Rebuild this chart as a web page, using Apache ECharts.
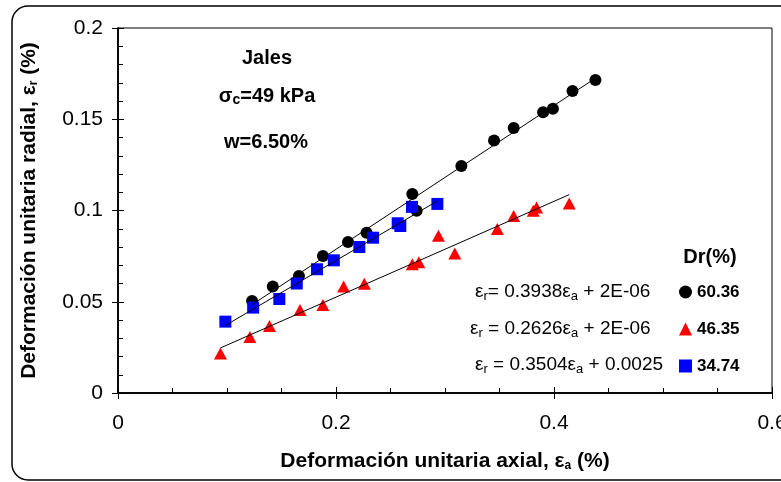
<!DOCTYPE html>
<html>
<head>
<meta charset="utf-8">
<script src="https://cdn.jsdelivr.net/npm/echarts@6/dist/echarts.min.js"></script>
<style>
html,body{margin:0;padding:0;background:#fff;}
#chart{width:781px;height:482px;}
</style>
</head>
<body>
<div id="chart"></div>
<script>
// ---- data ----
var seriesNames = ['60.36', '46.35', '34.74'];
var xTicks = ['0', '0.2', '0.4', '0.6'];
var yTicks = ['0', '0.05', '0.1', '0.15', '0.2'];

var circX = [0.123, 0.142, 0.166, 0.188, 0.211, 0.228, 0.270, 0.274, 0.315, 0.345, 0.363, 0.390, 0.399, 0.417, 0.438];
var circY = [0.0504, 0.0583, 0.0641, 0.0751, 0.0827, 0.0878, 0.109, 0.0998, 0.1244, 0.1384, 0.1452, 0.1538, 0.1558, 0.1655, 0.1715];

var triX = [0.094, 0.121, 0.139, 0.167, 0.188, 0.207, 0.226, 0.270, 0.276, 0.294, 0.309, 0.348, 0.363, 0.381, 0.384, 0.414];
var triY = [0.0217, 0.0307, 0.0367, 0.0455, 0.0482, 0.0583, 0.0599, 0.0705, 0.0716, 0.0862, 0.0764, 0.0899, 0.097, 0.0999, 0.1017, 0.1039];

var sqX = [0.0985, 0.124, 0.148, 0.164, 0.1826, 0.198, 0.2214, 0.234, 0.2566, 0.259, 0.2697, 0.293];
var sqY = [0.0391, 0.0468, 0.0515, 0.060, 0.0678, 0.0727, 0.080, 0.0851, 0.093, 0.0915, 0.102, 0.1036];

// trend line end points
var fitCircX = [0.123, 0.438], fitCircY = [0.0484, 0.1725];
var fitTriX = [0.094, 0.414], fitTriY = [0.0247, 0.1087];
var fitSqX = [0.0985, 0.293], fitSqY = [0.037, 0.1052];

function pairs(xs, ys) { return xs.map(function (x, i) { return [x, ys[i]]; }); }

var FONT = 'Liberation Sans, Arial, Helvetica, sans-serif';
var chart = echarts.init(document.getElementById('chart'), null, {renderer: 'canvas'});

var subStyle = function (size, pad) {
  return {fontSize: size, fontFamily: FONT, fontWeight: 'bold', padding: [pad, 0, 0, 0]};
};

var axisCommon = {
  min: 0,
  axisLine: {show: true, lineStyle: {color: '#000', width: 1.5}},
  splitLine: {show: false}
};

var option = {
  animation: false,
  backgroundColor: '#fff',
  grid: {
    left: 118, top: 28, right: 9, bottom: 89,
    show: true, borderColor: '#000', borderWidth: 1,
    containLabel: false, outerBoundsMode: 'none'
  },
  xAxis: [
    Object.assign({}, axisCommon, {
      type: 'value', position: 'bottom', max: 0.6, interval: 0.2,
      axisTick: {show: true, inside: false, length: 6, lineStyle: {color: '#000', width: 1}},
      axisLabel: {
        show: true, margin: 20, fontSize: 21, fontFamily: FONT, color: '#000', hideOverlap: false,
        formatter: function (v) { return xTicks[Math.round(v / 0.2)]; }
      },
      name: 'Deformación unitaria axial, ε{s|a} (%)',
      nameLocation: 'middle', nameGap: 58,
      nameTextStyle: {
        fontSize: 21, fontWeight: 'bold', fontFamily: FONT, color: '#000',
        rich: {s: subStyle(12, 9)}
      }
    }),
    Object.assign({}, axisCommon, {
      type: 'value', position: 'bottom', max: 0.6, interval: 0.2,
      axisTick: {show: true, inside: true, length: 6, lineStyle: {color: '#000', width: 1}},
      minorTick: {show: true, splitNumber: 4, length: 5, lineStyle: {color: '#000', width: 1}},
      axisLabel: {show: false}
    })
  ],
  yAxis: [
    Object.assign({}, axisCommon, {
      type: 'value', position: 'left', max: 0.2, interval: 0.05,
      axisTick: {show: true, inside: false, length: 6, lineStyle: {color: '#000', width: 1}},
      axisLabel: {
        show: true, margin: 15, fontSize: 21, fontFamily: FONT, color: '#000',
        formatter: function (v) { return yTicks[Math.round(v / 0.05)]; }
      },
      name: 'Deformación unitaria radial, ε{s|r} (%)',
      nameLocation: 'middle', nameGap: 78,
      nameTextStyle: {
        fontSize: 21, fontWeight: 'bold', fontFamily: FONT, color: '#000',
        rich: {s: subStyle(12, 9)}
      }
    }),
    Object.assign({}, axisCommon, {
      type: 'value', position: 'left', max: 0.2, interval: 0.05,
      axisTick: {show: true, inside: true, length: 6, lineStyle: {color: '#000', width: 1}},
      minorTick: {show: true, splitNumber: 5, length: 5, lineStyle: {color: '#000', width: 1}},
      axisLabel: {show: false}
    })
  ],
  legend: {
    data: seriesNames,
    orient: 'vertical',
    left: 679, top: 282, padding: 0,
    itemWidth: 13, itemHeight: 13, itemGap: 17,
    textStyle: {fontSize: 17, fontWeight: 'bold', fontFamily: FONT, color: '#000', lineHeight: 20},
    selectedMode: false
  },
  series: [
    {
      name: seriesNames[0], type: 'scatter', symbol: 'circle', symbolSize: 12,
      itemStyle: {color: '#000', opacity: 1}, data: pairs(circX, circY), z: 2
    },
    {
      name: seriesNames[1], type: 'scatter', symbol: 'triangle', symbolSize: [13, 12],
      itemStyle: {color: '#ff0000', opacity: 1}, data: pairs(triX, triY), z: 3
    },
    {
      name: seriesNames[2], type: 'scatter', symbol: 'rect', symbolSize: 12,
      itemStyle: {color: '#0000ff', opacity: 1}, data: pairs(sqX, sqY), z: 4
    },
    {
      name: 'fit1', type: 'line', showSymbol: false, symbol: 'none', z: 5,
      lineStyle: {color: '#000', width: 1}, data: pairs(fitCircX, fitCircY)
    },
    {
      name: 'fit2', type: 'line', showSymbol: false, symbol: 'none', z: 5,
      lineStyle: {color: '#000', width: 1}, data: pairs(fitTriX, fitTriY)
    },
    {
      name: 'fit3', type: 'line', showSymbol: false, symbol: 'none', z: 5,
      lineStyle: {color: '#000', width: 1}, data: pairs(fitSqX, fitSqY)
    }
  ],
  graphic: [
    {
      type: 'rect', z: 0, silent: true,
      shape: {x: 12, y: 6, width: 820, height: 474, r: 16},
      style: {fill: 'none', stroke: '#000', lineWidth: 1.5}
    },
    {
      type: 'text', x: 267, y: 58, z: 10,
      style: {text: 'Jales', font: 'bold 20px ' + FONT, fill: '#000', textAlign: 'center', textVerticalAlign: 'middle'}
    },
    {
      type: 'text', x: 267, y: 96, z: 10,
      style: {
        text: 'σ{s|c}=49 kPa', fontSize: 20, fontWeight: 'bold', fontFamily: FONT, fill: '#000',
        align: 'center', verticalAlign: 'middle',
        rich: {s: {fontSize: 14, fontWeight: 'bold', fontFamily: FONT, padding: [9, 0, 0, 0]}}
      }
    },
    {
      type: 'text', x: 266, y: 142, z: 10,
      style: {text: 'w=6.50%', font: 'bold 20px ' + FONT, fill: '#000', textAlign: 'center', textVerticalAlign: 'middle'}
    },
    {
      type: 'text', x: 710, y: 257, z: 10,
      style: {text: 'Dr(%)', font: 'bold 20px ' + FONT, fill: '#000', textAlign: 'center', textVerticalAlign: 'middle'}
    },
    {
      type: 'text', x: 475, y: 292, z: 10,
      style: {
        text: 'ε{s|r}= 0.3938ε{s|a} + 2E-06', fontSize: 19, fontFamily: FONT, fill: '#000',
        align: 'left', verticalAlign: 'middle',
        rich: {s: {fontSize: 13, fontFamily: FONT, padding: [9, 0, 0, 0]}}
      }
    },
    {
      type: 'text', x: 470, y: 329, z: 10,
      style: {
        text: 'ε{s|r} = 0.2626ε{s|a} + 2E-06', fontSize: 19, fontFamily: FONT, fill: '#000',
        align: 'left', verticalAlign: 'middle',
        rich: {s: {fontSize: 13, fontFamily: FONT, padding: [9, 0, 0, 0]}}
      }
    },
    {
      type: 'text', x: 475, y: 365, z: 10,
      style: {
        text: 'ε{s|r} = 0.3504ε{s|a} + 0.0025', fontSize: 19, fontFamily: FONT, fill: '#000',
        align: 'left', verticalAlign: 'middle',
        rich: {s: {fontSize: 13, fontFamily: FONT, padding: [9, 0, 0, 0]}}
      }
    }
  ]
};
chart.setOption(option);
</script>
</body>
</html>
